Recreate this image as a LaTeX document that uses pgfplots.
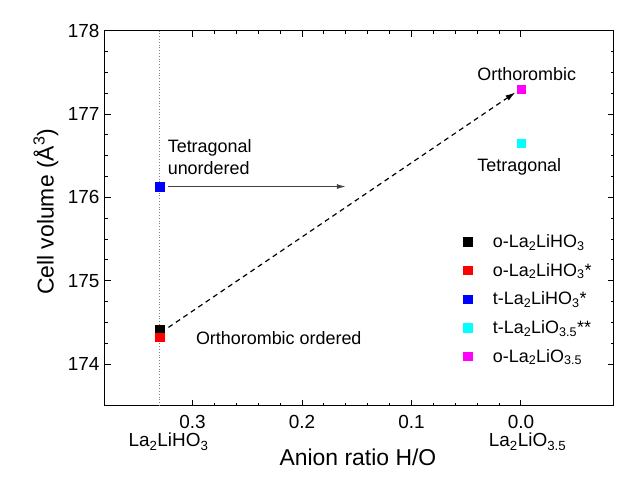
\documentclass[border=0pt]{standalone}
\usepackage{pgfplots}
\pgfplotsset{compat=1.18}
\usepackage{fontspec}
\setmainfont{Liberation Sans}
\setsansfont{Liberation Sans}
\usetikzlibrary{arrows.meta}
\definecolor{pcyan}{RGB}{0,255,255}
\definecolor{pmagenta}{RGB}{255,0,255}

\begin{document}
\begin{tikzpicture}
\path[use as bounding box] (-105bp,-73.3bp) rectangle (530bp,405.7bp);
\begin{axis}[
 scale only axis, width=509bp, height=375bp,
 x dir=reverse, xmin=-0.085, xmax=0.38, ymin=173.5, ymax=178,
 xtick={0,0.1,0.2,0.3}, ytick={174,175,176,177,178},
 minor x tick num=4, minor y tick num=3,
 tick align=inside, major tick length=6bp, minor tick length=3bp,
 axis line style={line width=1bp},
 every tick/.style={black, line width=1bp},
 tick label style={font=\fontsize{19}{22}\selectfont},
 /pgf/number format/assume math mode=true,
 xticklabel style={/pgf/number format/.cd, fixed, fixed zerofill, precision=1, /tikz/.cd, yshift=-6bp},
 yticklabel style={/pgf/number format/.cd, fixed, precision=0, /tikz/.cd, xshift=-2bp},
 xlabel={Anion ratio H/O},
 ylabel={Cell volume (Å\textsuperscript{3})},
 label style={font=\fontsize{23}{26}\selectfont},
 xlabel style={at={(axis description cs:0.497,-0.137)}, anchor=center},
 ylabel style={at={(axis description cs:-0.116,0.517)}, anchor=center},
 legend style={draw=none, fill=none, at={(axis description cs:0.698,0.468)}, anchor=north west,
   font=\fontsize{18}{21}\selectfont, row sep=10.2bp,
   /tikz/every odd column/.append style={column sep=19bp}},
 legend cell align=left,
 clip=false,
]
\addplot[forget plot, dotted, gray, line width=0.8bp] coordinates {(0.33,173.5) (0.33,178)};
\addplot[forget plot, dashed, line width=1.2bp, dash pattern=on 5bp off 4bp, -{Latex[length=10bp,width=6bp]}] coordinates {(0.322,174.44) (0.005,177.26)};
\addplot[forget plot, black!75, line width=1bp, -{Latex[length=9bp,width=5bp]}] coordinates {(0.322,176.13) (0.16,176.13)};

\addplot[only marks, mark=square*, mark size=4.2bp, black] coordinates {(0.33,174.41)};
\addlegendentry{o-La\textsubscript{2}LiHO\textsubscript{3}}
\addplot[only marks, mark=square*, mark size=4.2bp, red] coordinates {(0.33,174.32)};
\addlegendentry{o-La\textsubscript{2}LiHO\textsubscript{3}*}
\addplot[only marks, mark=square*, mark size=4.2bp, blue] coordinates {(0.33,176.13)};
\addlegendentry{t-La\textsubscript{2}LiHO\textsubscript{3}*}
\addplot[only marks, mark=square*, mark size=4.2bp, pcyan] coordinates {(0,176.65)};
\addlegendentry{t-La\textsubscript{2}LiO\textsubscript{3.5}**}
\addplot[only marks, mark=square*, mark size=4.2bp, pmagenta] coordinates {(0,177.30)};
\addlegendentry{o-La\textsubscript{2}LiO\textsubscript{3.5}}

\node[anchor=base west, font=\fontsize{18}{21}\selectfont, inner sep=0] at (axis cs:0.3228,176.54) {Tetragonal};
\node[anchor=base west, font=\fontsize{18}{21}\selectfont, inner sep=0] at (axis cs:0.3228,176.27) {unordered};
\node[anchor=base west, font=\fontsize{18}{21}\selectfont, inner sep=0] at (axis cs:0.297,174.24) {Orthorombic ordered};
\node[anchor=base, font=\fontsize{18}{21}\selectfont, inner sep=0] at (axis cs:-0.0053,177.40) {Orthorombic};
\node[anchor=base, font=\fontsize{18}{21}\selectfont, inner sep=0] at (axis cs:0.0015,176.316) {Tetragonal};

\node[anchor=base, font=\fontsize{19}{22}\selectfont, inner sep=0, yshift=-41bp] at (axis cs:0.322,173.5) {La\textsubscript{2}LiHO\textsubscript{3}};
\node[anchor=base, font=\fontsize{19}{22}\selectfont, inner sep=0, yshift=-41bp] at (axis cs:-0.006,173.5) {La\textsubscript{2}LiO\textsubscript{3.5}};
\end{axis}
\end{tikzpicture}
\end{document}
